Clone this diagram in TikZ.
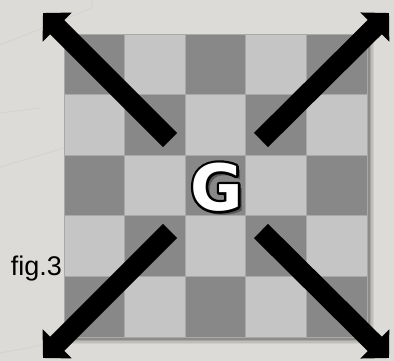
\documentclass[tikz,border=0pt]{standalone}
\usepackage{fontspec}
\setmainfont{Liberation Sans}
\newfontfamily\gfont{DejaVu Sans}
\usetikzlibrary{arrows.meta}
\definecolor{bg}{HTML}{DDDBD7}
\definecolor{dk}{HTML}{888888}
\definecolor{lt}{HTML}{C5C5C5}
\definecolor{gridc}{HTML}{A9A9A9}
\newcommand{\strokedG}{\special{pdf:literal direct 0 0 0 RG 5 w 1 j 2 Tr}G\special{pdf:literal direct 0 Tr}}
\begin{document}
\begin{tikzpicture}[x=1pt,y=-1pt,
  arr/.style={line width=20pt, line cap=butt, -{Triangle[length=20pt,width=40pt]}},
  gletter/.style={inner sep=0pt, font=\gfont\bfseries\fontsize{64}{64}\selectfont},
  texture/.style={draw=gray!35, line width=0.8pt}]
\useasboundingbox (0,0) rectangle (394,361);
\fill[bg] (0,0) rectangle (394,361);
% faint background texture
\draw[texture] (0,45) -- (92,8) -- (92,0);
\draw[texture] (0,167) -- (64,148);
\draw[texture] (0,353) -- (43,345);
\draw[texture] (0,113) -- (40,108);
% board shadow
\foreach \o/\a in {7/0.06,5.5/0.08,4/0.12,2.5/0.16,1.2/0.2}
  \fill[black,opacity=\a] (64+\o,34+\o) rectangle (367+\o,337+\o);
% board
\fill[lt] (64,34) rectangle (367,337);
\foreach \i in {0,...,4}
  \foreach \j in {0,...,4}{
    \pgfmathtruncatemacro\p{mod(\i+\j,2)}
    \ifnum\p=0
      \fill[dk] ({64+60.6*\i},{34+60.6*\j}) rectangle +(60.6,60.6);
    \fi
  }
\foreach \k in {1,...,4}{
  \draw[gridc, line width=0.7pt] ({64+60.6*\k},34) -- ({64+60.6*\k},337);
  \draw[gridc, line width=0.7pt] (64,{34+60.6*\k}) -- (367,{34+60.6*\k});
}
\draw[gridc, line width=0.8pt] (64,34) rectangle (367,337);
% arrows
\coordinate (c) at (216.5,187);
\coordinate (tlT) at (170,140);  \coordinate (tlH) at (43,13);
\coordinate (trT) at (261,140);  \coordinate (trH) at (389,13);
\coordinate (blT) at (170,231);  \coordinate (blH) at (43,358);
\coordinate (brT) at (261,231);  \coordinate (brH) at (389,358);
\draw[arr] (tlT) -- (tlH);
\draw[arr] (trT) -- (trH);
\draw[arr] (blT) -- (blH);
\draw[arr] (brT) -- (brH);
% G letter: shadow, black outline, white body
\node[gletter, text=black, opacity=0.35] (gs) at ([shift={(4,4)}]c) {G};
\node[gletter, text=black] (go) at (c) {\strokedG};
\node[gletter, text=white] (g) at (c) {G};
% label
\node[anchor=base east, inner sep=0pt, font=\fontsize{27}{27}\selectfont] (lbl) at (62,275) {fig.3};
\end{tikzpicture}
\end{document}
